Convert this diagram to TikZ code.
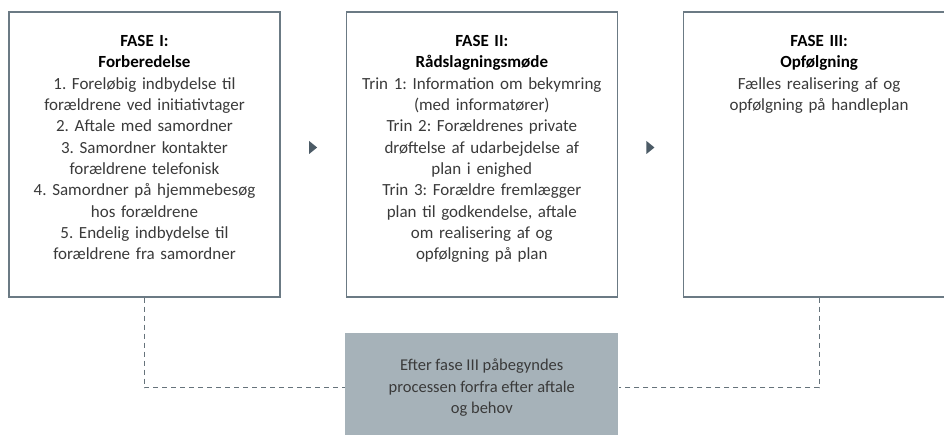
\documentclass[tikz,border=0pt]{standalone}
\usepackage{fontspec}
\setmainfont{Carlito}
\usetikzlibrary{shapes,arrows,positioning,calc}

\definecolor{boxline}{HTML}{6B7A84}
\definecolor{tipfill}{HTML}{4C5B66}
\definecolor{notefill}{HTML}{A6B2B9}
\definecolor{dashcol}{HTML}{66737B}
\definecolor{bodytext}{HTML}{3A3A3A}

\begin{document}
\frenchspacing
\begin{tikzpicture}[x=1pt, y=1pt, node distance=65pt,
  phase/.style={draw=boxline, line width=1.3pt, rectangle, inner sep=0pt,
    minimum width=271pt, minimum height=285pt},
  phasetext/.style={anchor=north, align=center, text width=265pt, inner sep=0pt,
    text=bodytext, font=\fontsize{17}{21.3}\selectfont},
  note/.style={fill=notefill, rectangle, inner sep=0pt, align=center,
    minimum width=273pt, minimum height=110pt, text=bodytext,
    font=\fontsize{16.5}{21.3}\selectfont},
  dashline/.style={draw=dashcol, line width=1.1pt, dash pattern=on 5pt off 4pt}]
  \useasboundingbox (0,0) rectangle (944,435);

  % the three phases
  \node [phase] (f1) at (144.5,280.5) {};
  \node [phase, right=of f1] (f2) {};
  \node [phase, right=of f2] (f3) {};

  \node [phasetext, below=24pt of f1.north] (t1) {%
    \textbf{\color{black}FASE I:}\\
    \textbf{\color{black}Forberedelse}\\
    1. Foreløbig indbydelse til\\
    forældrene ved initiativtager\\
    2. Aftale med samordner\\
    3. Samordner kontakter\\
    forældrene telefonisk\\
    4. Samordner på hjemmebesøg\\
    hos forældrene\\
    5. Endelig indbydelse til\\
    forældrene fra samordner};
  \node [phasetext, below=24pt of f2.north] (t2) {%
    \textbf{\color{black}FASE II:}\\
    \textbf{\color{black}Rådslagningsmøde}\\
    Trin 1: Information om bekymring\\
    (med informatører)\\
    Trin 2: Forældrenes private\\
    drøftelse af udarbejdelse af\\
    plan i enighed\\
    Trin 3: Forældre fremlægger\\
    plan til godkendelse, aftale\\
    om realisering af og\\
    opfølgning på plan};
  \node [phasetext, below=24pt of f3.north] (t3) {%
    \textbf{\color{black}FASE III:}\\
    \textbf{\color{black}Opfølgning}\\
    Fælles realisering af og\\
    opfølgning på handleplan};

  % arrow tips between the phases
  \coordinate (a1) at ($(f1.east)!.5!(f2.west)+(0,7)$);
  \coordinate (a2) at ($(f2.east)!.5!(f3.west)+(0,7)$);
  \foreach \a in {a1,a2}
    \fill [tipfill] ($(\a)+(-4,6.5)$) -- ($(\a)+(4,0)$) -- ($(\a)+(-4,-6.5)$) -- cycle;

  % restart note
  \node [note, below=35pt of f2] (restart) {%
    Efter fase III påbegyndes\\
    processen forfra efter aftale\\
    og behov};
  \draw [dashline] (f1.south) |- (restart.west);
  \draw [dashline] (f3.south) |- (restart.east);
\end{tikzpicture}
\end{document}
